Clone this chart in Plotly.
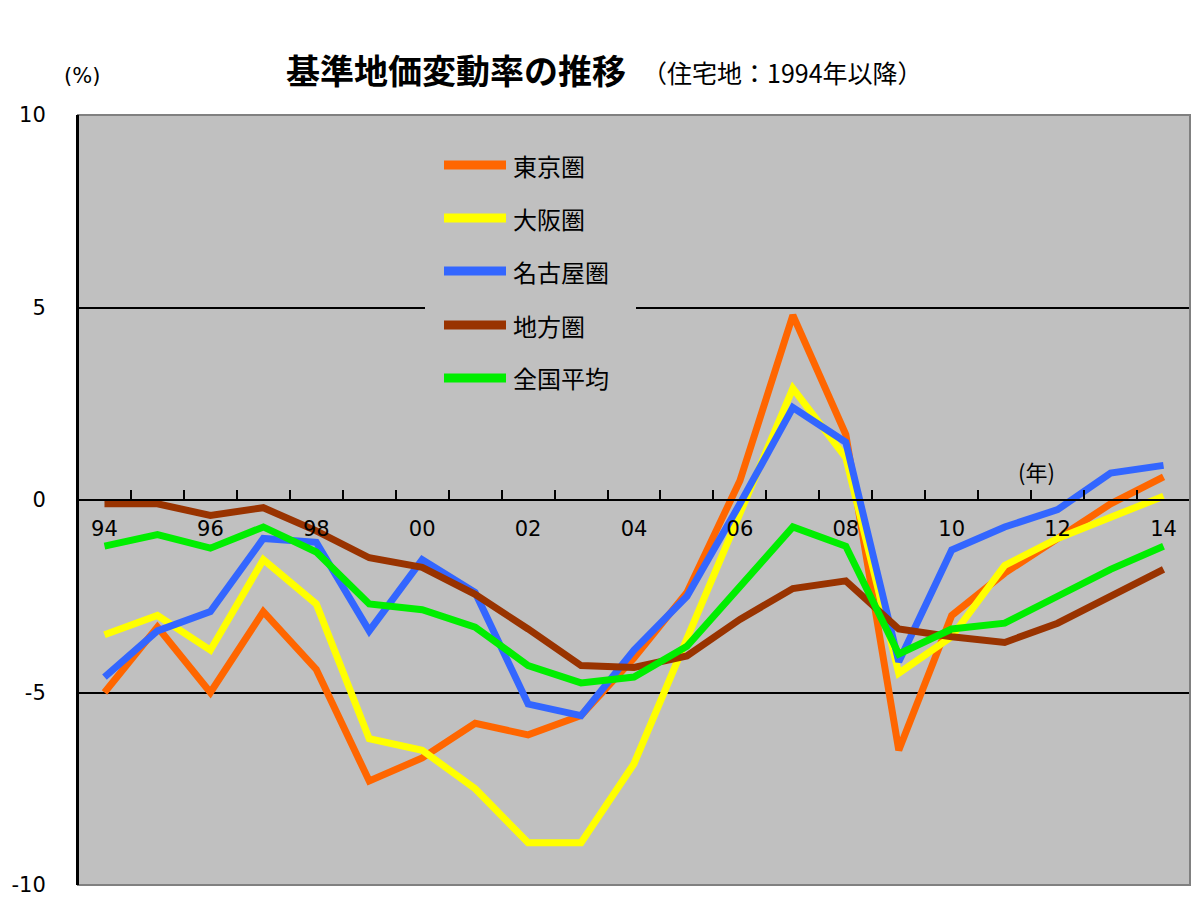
import plotly.graph_objects as go

years = list(range(1994, 2015))
tick_years = list(range(1994, 2015, 2))
tick_text = ["94", "96", "98", "00", "02", "04", "06", "08", "10", "12", "14"]

series_names = ["東京圏", "大阪圏", "名古屋圏", "地方圏", "全国平均"]
tokyo = [-5.0, -3.3, -5.0, -2.9, -4.4, -7.3, -6.7, -5.8, -6.1, -5.6, -4.1, -2.4, 0.5, 4.8, 1.7, -6.5, -3.0, -1.9, -1.0, -0.1, 0.6]
osaka = [-3.5, -3.0, -3.9, -1.55, -2.7, -6.2, -6.5, -7.5, -8.9, -8.9, -6.85, -3.6, -0.3, 2.9, 1.1, -4.5, -3.55, -1.7, -1.0, -0.45, 0.1]
nagoya = [-4.6, -3.4, -2.9, -1.0, -1.1, -3.4, -1.55, -2.4, -5.3, -5.6, -3.9, -2.5, -0.1, 2.4, 1.5, -4.2, -1.3, -0.7, -0.25, 0.7, 0.9]
chiho = [-0.1, -0.1, -0.4, -0.2, -0.8, -1.5, -1.75, -2.45, -3.35, -4.3, -4.35, -4.05, -3.1, -2.3, -2.1, -3.35, -3.55, -3.7, -3.2, -2.5, -1.8]
zenkoku = [-1.2, -0.9, -1.25, -0.7, -1.35, -2.7, -2.85, -3.3, -4.3, -4.75, -4.6, -3.8, -2.25, -0.7, -1.2, -4.0, -3.35, -3.2, -2.5, -1.8, -1.2]
colors = ["#FF6600", "#FFFF00", "#3366FF", "#993300", "#00EE00"]

y_ticks = [-10, -5, 0, 5, 10]

FONT = "DejaVu Sans, Noto Sans CJK JP, sans-serif"
CJK = "Noto Sans CJK JP, sans-serif"

fig = go.Figure()
for name, vals, col in zip(series_names, [tokyo, osaka, nagoya, chiho, zenkoku], colors):
    fig.add_trace(go.Scatter(x=years, y=vals, mode="lines", name=name,
                             line=dict(color=col, width=7), showlegend=False))

W, H = 1200, 900
ml, mr, mt, mb = 78, 10, 115, 15
pw, ph = W - ml - mr, H - mt - mb


def px(xp):
    return (xp - ml) / pw


def py(yp):
    return (H - mb - yp) / ph


fig.update_layout(
    width=W, height=H,
    margin=dict(l=ml, r=mr, t=mt, b=mb, autoexpand=False),
    paper_bgcolor="white",
    plot_bgcolor="#C0C0C0",
    font=dict(family=FONT, size=21, color="black"),
    xaxis=dict(
        range=[1993.5, 2014.5],
        anchor="free", position=0.5, automargin=False,
        showline=True, linecolor="black", linewidth=2,
        showgrid=False, zeroline=False,
        tickmode="array", tickvals=tick_years, ticktext=tick_text,
        ticks="", ticklabelstandoff=10,
        tickfont=dict(size=21, family=FONT),
        minor=dict(tickmode="array", tickvals=[y + 0.5 for y in years[:-1]],
                   ticks="inside", ticklen=9, tickwidth=2, tickcolor="black", showgrid=False),
    ),
    yaxis=dict(
        range=[-10, 10], automargin=False,
        tickmode="array", tickvals=y_ticks, ticktext=[str(v) for v in y_ticks],
        showgrid=True, gridcolor="black", gridwidth=1.5,
        zeroline=False,
        showline=True, linecolor="black", linewidth=2,
        ticks="", ticklabelstandoff=26,
        tickfont=dict(size=21, family=FONT),
    ),
)

shapes = []
shapes.append(dict(type="rect", xref="paper", yref="paper", x0=0, x1=1, y0=0, y1=1,
                   line=dict(color="#808080", width=2), layer="above"))
shapes.append(dict(type="line", xref="paper", yref="paper", x0=0, x1=0, y0=0, y1=1,
                   line=dict(color="black", width=2), layer="above"))
shapes.append(dict(type="rect", xref="paper", yref="paper", x0=px(425), x1=px(636),
                   y0=py(400), y1=py(140), fillcolor="#C0C0C0", line=dict(width=0), layer="above"))
legend_y = [165, 218, 271, 325, 378]
annotations = []
for name, col, ly in zip(series_names, colors, legend_y):
    shapes.append(dict(type="line", xref="paper", yref="paper", x0=px(444), x1=px(506),
                       y0=py(ly), y1=py(ly), line=dict(color=col, width=9), layer="above"))
    annotations.append(dict(xref="paper", yref="paper", x=px(511), y=py(ly), text=name,
                            showarrow=False, xanchor="left", yanchor="middle",
                            font=dict(family=CJK, size=24, color="black")))

annotations += [
    dict(xref="paper", yref="paper", x=px(628), y=py(70), text="<b>基準地価変動率の推移</b>",
         showarrow=False, xanchor="right", yanchor="middle",
         font=dict(family=CJK, size=34, color="black")),
    dict(xref="paper", yref="paper", x=px(640), y=py(72), text="（住宅地：1994年以降）",
         showarrow=False, xanchor="left", yanchor="middle",
         font=dict(family=CJK, size=25, color="black")),
    dict(xref="paper", yref="paper", x=px(82), y=py(76), text="(%)",
         showarrow=False, xanchor="center", yanchor="middle",
         font=dict(family=FONT, size=21, color="black")),
    dict(xref="x", yref="y", x=2011.6, y=0.75, text="(年)",
         showarrow=False, xanchor="center", yanchor="middle",
         font=dict(family=CJK, size=22, color="black")),
]

fig.update_layout(shapes=shapes, annotations=annotations)
fig.write_html("out.html")
